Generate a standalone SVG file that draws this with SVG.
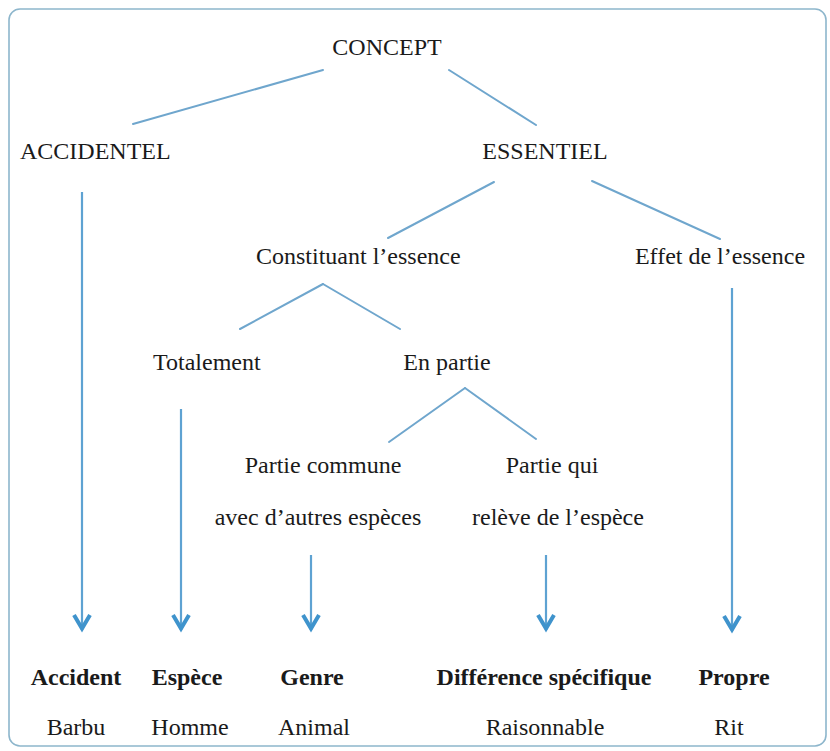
<svg xmlns="http://www.w3.org/2000/svg" width="830" height="751" viewBox="0 0 830 751">
<style>
  text { font-family: 'Liberation Serif', 'Tinos', 'DejaVu Serif', serif; font-size: 24px; fill: #1a1a1a; }
  .b { font-weight: bold; }
  .c { text-anchor: middle; }
  .ln { stroke: #6fa6cd; stroke-width: 2; fill: none; stroke-linecap: round; }
  .ar { stroke: #5ea2d2; stroke-width: 2.2; fill: none; marker-end: url(#chev); }
</style>
<defs>
  <marker id="chev" markerUnits="userSpaceOnUse" markerWidth="24" markerHeight="24" refX="0" refY="0" orient="auto" overflow="visible" viewBox="-20 -12 24 24">
    <path d="M-15,-8 L-1.5,0 L-15,8" fill="none" stroke="#3f93cc" stroke-width="4" stroke-linejoin="miter"/>
  </marker>
</defs>
<rect x="9" y="9" width="817" height="737" rx="11" fill="#ffffff" stroke="#8db6cc" stroke-width="1.6"/>
<g id="connectors">
  <line class="ln" x1="323" y1="70" x2="133" y2="124"/>
  <line class="ln" x1="449" y1="70" x2="536" y2="125"/>
  <line class="ln" x1="494" y1="182" x2="388" y2="238"/>
  <line class="ln" x1="592" y1="181" x2="720" y2="239"/>
  <line class="ln" x1="323" y1="284" x2="240" y2="329"/>
  <line class="ln" x1="323" y1="284" x2="400" y2="329"/>
  <line class="ln" x1="465" y1="388" x2="389" y2="442"/>
  <line class="ln" x1="465" y1="388" x2="536" y2="439"/>
  <line class="ar" x1="82" y1="192" x2="82" y2="630"/>
  <line class="ar" x1="181" y1="409" x2="181" y2="630"/>
  <line class="ar" x1="311" y1="555" x2="311" y2="630"/>
  <line class="ar" x1="546" y1="555" x2="546" y2="630"/>
  <line class="ar" x1="732" y1="288" x2="732" y2="631"/>
</g>
<g id="concept"><text class="c" x="387" y="55">CONCEPT</text></g>
<g id="accidentel"><text x="20" y="159">ACCIDENTEL</text></g>
<g id="essentiel"><text class="c" x="545" y="159">ESSENTIEL</text></g>
<g id="constituant"><text x="256" y="264">Constituant l’essence</text></g>
<g id="effet"><text class="c" x="720" y="264">Effet de l’essence</text></g>
<g id="totalement"><text x="153" y="370">Totalement</text></g>
<g id="enpartie"><text class="c" x="447" y="370">En partie</text></g>
<g id="partiecommune">
  <text class="c" x="323" y="473">Partie commune</text>
  <text class="c" x="318" y="525">avec d’autres espèces</text>
</g>
<g id="partiequi">
  <text class="c" x="552" y="473">Partie qui</text>
  <text class="c" x="558" y="525">relève de l’espèce</text>
</g>
<g id="accident">
  <text class="c b" x="76" y="685">Accident</text>
  <text class="c" x="76" y="735">Barbu</text>
</g>
<g id="espece">
  <text class="c b" x="187" y="685">Espèce</text>
  <text class="c" x="190" y="735">Homme</text>
</g>
<g id="genre">
  <text class="c b" x="312" y="685">Genre</text>
  <text class="c" x="314" y="735">Animal</text>
</g>
<g id="difference">
  <text class="c b" x="544" y="685">Différence spécifique</text>
  <text class="c" x="545" y="735">Raisonnable</text>
</g>
<g id="propre">
  <text class="c b" x="734" y="685">Propre</text>
  <text class="c" x="729" y="735">Rit</text>
</g>
</svg>
